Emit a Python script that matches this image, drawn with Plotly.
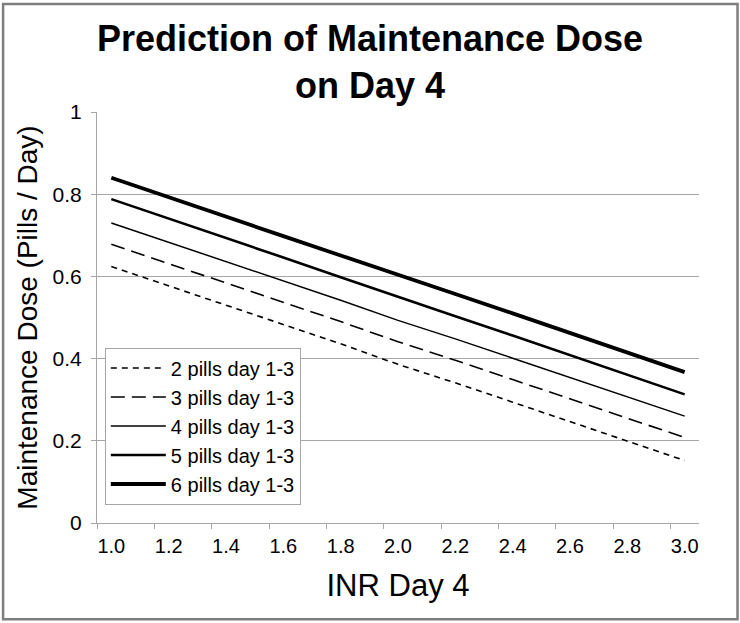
import plotly.graph_objects as go

inr = [1.0, 1.2, 1.4, 1.6, 1.8, 2.0, 2.2, 2.4, 2.6, 2.8, 3.0]
dose_2 = [0.624, 0.577, 0.530, 0.483, 0.436, 0.386, 0.341, 0.294, 0.247, 0.199, 0.152]
dose_3 = [0.678, 0.631, 0.584, 0.537, 0.490, 0.441, 0.396, 0.349, 0.302, 0.255, 0.208]
dose_4 = [0.730, 0.683, 0.636, 0.589, 0.542, 0.493, 0.448, 0.401, 0.354, 0.307, 0.260]
dose_5 = [0.788, 0.741, 0.693, 0.646, 0.598, 0.550, 0.503, 0.456, 0.408, 0.361, 0.313]
dose_6 = [0.840, 0.792, 0.745, 0.698, 0.651, 0.605, 0.557, 0.510, 0.462, 0.415, 0.367]
names = ["2 pills day 1-3", "3 pills day 1-3", "4 pills day 1-3", "5 pills day 1-3", "6 pills day 1-3"]
x_ticks = [1.0, 1.2, 1.4, 1.6, 1.8, 2.0, 2.2, 2.4, 2.6, 2.8, 3.0]
x_ticktext = ["1.0", "1.2", "1.4", "1.6", "1.8", "2.0", "2.2", "2.4", "2.6", "2.8", "3.0"]
x_minor = [0.95, 1.15, 1.35, 1.55, 1.75, 1.95, 2.15, 2.35, 2.55, 2.75, 2.95]
y_ticks = [0, 0.2, 0.4, 0.6, 0.8, 1.0]
y_ticktext = ["0", "0.2", "0.4", "0.6", "0.8", "1"]

series = [dose_2, dose_3, dose_4, dose_5, dose_6]
widths = [1.6, 1.6, 1.5, 2.6, 3.8]
dashes = ["6px,5px", "14px,7px", "solid", "solid", "solid"]

FONT_R = "Liberation Sans, Arial, sans-serif"

fig = go.Figure()
for vals, nm, w, d in zip(series, names, widths, dashes):
    fig.add_trace(go.Scatter(x=inr, y=vals, name=nm, mode="lines",
                             line=dict(color="black", width=w, dash=d)))

grid = "#a6a6a6"
fig.update_layout(
    width=740, height=623,
    margin=dict(l=97, r=41, t=112, b=100),
    paper_bgcolor="white", plot_bgcolor="white",
    font=dict(family=FONT_R, color="black"),
    title=dict(text="<b>Prediction of Maintenance Dose<br>on Day 4</b>",
               x=0.5, xanchor="center", xref="container",
               y=0.918, yanchor="top", yref="container",
               font=dict(size=36, family=FONT_R, color="black")),
    showlegend=True,
    legend=dict(x=0.013, y=0.427, xanchor="left", yanchor="top",
                bgcolor="white", bordercolor="#a6a6a6", borderwidth=1,
                font=dict(size=20, family=FONT_R, color="black"),
                itemwidth=55, tracegroupgap=0),
    xaxis=dict(range=[0.95, 3.05], tickvals=x_ticks, ticktext=x_ticktext,
               ticks="", showgrid=False, zeroline=False,
               showline=True, linecolor=grid, linewidth=1.2,
               tickfont=dict(size=20, family=FONT_R), ticklabelstandoff=5,
               minor=dict(tickvals=x_minor, ticks="outside", ticklen=5,
                          tickcolor=grid, tickwidth=1, showgrid=False),
               title=dict(text="INR Day 4", font=dict(size=31, family=FONT_R), standoff=18)),
    yaxis=dict(range=[0, 1.0], tickvals=y_ticks, ticktext=y_ticktext,
               ticks="outside", ticklen=5, tickcolor=grid,
               showgrid=True, gridcolor=grid, gridwidth=1.2, zeroline=False,
               showline=True, linecolor=grid, linewidth=1.2,
               tickfont=dict(size=21, family=FONT_R), ticklabelstandoff=5,
               title=dict(text="Maintenance Dose (Pills / Day)",
                          font=dict(size=28, family=FONT_R), standoff=6)),
)

fig.add_shape(type="rect", xref="paper", yref="paper",
              x0=-0.156, x1=1.064, y0=-0.234, y1=1.263,
              line=dict(color="#7f7f7f", width=2.5), fillcolor="rgba(0,0,0,0)")

fig.write_html("out.html", config={"displayModeBar": False},
               post_script="document.body.style.margin='0';document.body.style.overflow='hidden';")
